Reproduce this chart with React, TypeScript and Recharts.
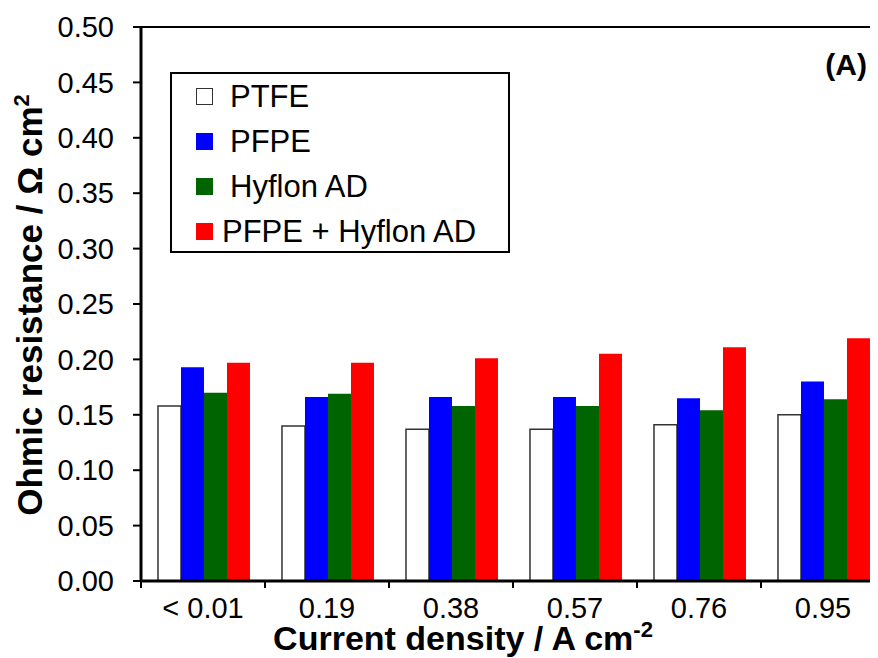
import React from 'react';
import { BarChart, Bar, XAxis, YAxis, ReferenceLine } from 'recharts';

const categories = ['< 0.01', '0.19', '0.38', '0.57', '0.76', '0.95'];
const ptfe = [0.158, 0.140, 0.137, 0.137, 0.141, 0.150];
const pfpe = [0.193, 0.166, 0.166, 0.166, 0.165, 0.180];
const hyflon = [0.170, 0.169, 0.158, 0.158, 0.154, 0.164];
const pfpeHyflon = [0.197, 0.197, 0.201, 0.205, 0.211, 0.219];
const yTicks = [0, 0.05, 0.1, 0.15, 0.2, 0.25, 0.3, 0.35, 0.4, 0.45, 0.5];

const seriesNames = ['PTFE', 'PFPE', 'Hyflon AD', 'PFPE + Hyflon AD'];
const seriesKeys = ['ptfe', 'pfpe', 'hyflon', 'pfpeHyflon'];
const seriesFill = ['#ffffff', '#0000ff', '#006400', '#ff0000'];
const seriesStroke = ['#333333', 'none', 'none', 'none'];

const data = categories.map((c, i) => ({
  cat: c,
  ptfe: ptfe[i],
  pfpe: pfpe[i],
  hyflon: hyflon[i],
  pfpeHyflon: pfpeHyflon[i],
}));

const FONT = '"Liberation Sans", Arial, Helvetica, sans-serif';
const CHART_W = 881;
const CHART_H = 650;
const MARGIN = { top: 19, right: 4, left: 0, bottom: 0 };
const YAXIS_W = 133;
const XAXIS_H = CHART_H - MARGIN.top - MARGIN.bottom - 554;
const PLOT_W = CHART_W - YAXIS_W - MARGIN.left - MARGIN.right;
const BAND = PLOT_W / categories.length;
const X_TICK_SIZE = 7;
const X_TICK_MARGIN = 9;

const XTick = (props: any) => {
  const { x, y, payload, index } = props;
  const axisY = y - X_TICK_SIZE - X_TICK_MARGIN;
  const left = x - BAND / 2;
  const right = x + BAND / 2;
  return (
    <g>
      <line x1={left} x2={left} y1={axisY} y2={axisY + X_TICK_SIZE} stroke="#000" strokeWidth={2} />
      {index === categories.length - 1 && (
        <line x1={right} x2={right} y1={axisY} y2={axisY + X_TICK_SIZE} stroke="#000" strokeWidth={2} />
      )}
      <text x={x} y={y} dy="0.71em" textAnchor="middle" fill="#000" fontSize={29} fontFamily={FONT}>
        {payload.value}
      </text>
    </g>
  );
};

export default function App() {
  return (
    <div style={{ position: 'relative', width: 870, height: 650, overflow: 'hidden', background: '#fff' }}>
      <BarChart
        width={CHART_W}
        height={CHART_H}
        data={data}
        margin={MARGIN}
        barCategoryGap="13.7%"
        barGap={0}
      >
        <XAxis
          dataKey="cat"
          height={XAXIS_H}
          axisLine={{ stroke: '#000', strokeWidth: 3 }}
          tickLine={false}
          tickSize={X_TICK_SIZE}
          tickMargin={X_TICK_MARGIN}
          tick={XTick}
          interval={0}
        />
        <YAxis
          width={YAXIS_W}
          domain={[0, 0.5]}
          ticks={yTicks}
          tickFormatter={(v: number) => v.toFixed(2)}
          axisLine={{ stroke: '#000', strokeWidth: 3 }}
          tickLine={{ stroke: '#000', strokeWidth: 2 }}
          tickSize={8}
          tickMargin={19}
          tick={{ fill: '#000', fontSize: 29, fontFamily: FONT }}
          interval={0}
        />
        {seriesKeys.map((k, i) => (
          <Bar
            key={k}
            dataKey={k}
            name={seriesNames[i]}
            fill={seriesFill[i]}
            stroke={seriesStroke[i]}
            strokeWidth={seriesStroke[i] === 'none' ? 0 : 1.5}
            isAnimationActive={false}
          />
        ))}
        <ReferenceLine y={0.5} stroke="#000" strokeWidth={2} />
      </BarChart>

      <svg
        width={870}
        height={650}
        style={{ position: 'absolute', left: 0, top: 0, pointerEvents: 'none' }}
      >
        <text
          x={34}
          y={297}
          transform="rotate(-90 34 297)"
          textAnchor="middle"
          fontSize={35}
          fontWeight="bold"
          fontFamily={FONT}
          fill="#000"
        >
          Ohmic resistance / Ω cm<tspan fontSize={22} dy={-13}>2</tspan>
        </text>
        <text
          x={455}
          y={642}
          textAnchor="middle"
          fontSize={34}
          fontWeight="bold"
          fontFamily={FONT}
          fill="#000"
        >
          Current density / A cm<tspan fontSize={22} dy={-13}>-2</tspan>
        </text>
        <text x={859} y={67} textAnchor="end" fontSize={30} fontWeight="bold" fontFamily={FONT} fill="#000">
          (A)
        </text>
      </svg>

      <div
        style={{
          position: 'absolute',
          left: 162,
          top: 64,
          width: 336,
          height: 177,
          border: '2px solid #000',
          background: '#fff',
          fontFamily: FONT,
          fontSize: 31,
          color: '#000',
        }}
      >
        {seriesNames.map((n, i) => (
          <div key={n} style={{ display: 'flex', alignItems: 'center', height: 45, paddingLeft: 24 }}>
            <span
              style={{
                display: 'inline-block',
                width: 17,
                height: 17,
                boxSizing: 'border-box',
                background: seriesFill[i],
                border: i === 0 ? '1.5px solid #333' : 'none',
                marginRight: i === seriesNames.length - 1 ? 9 : 17,
                flex: 'none',
              }}
            />
            <span style={{ lineHeight: '45px', whiteSpace: 'nowrap' }}>{n}</span>
          </div>
        ))}
      </div>
    </div>
  );
}
